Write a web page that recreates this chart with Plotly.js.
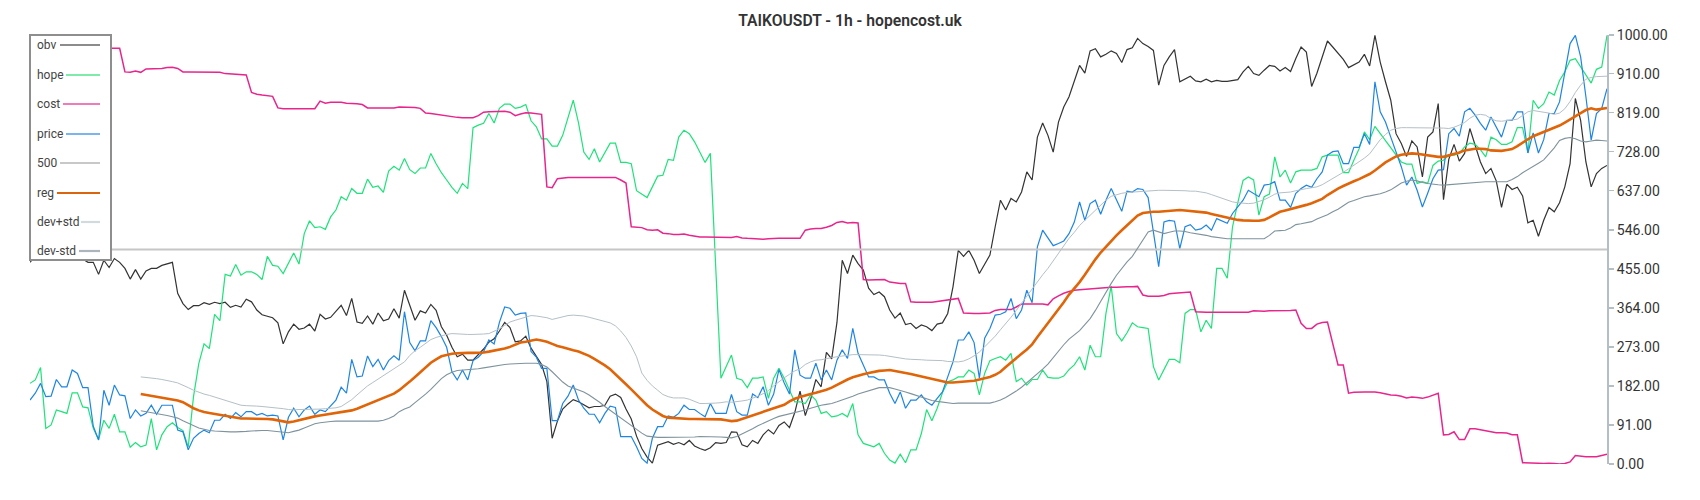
<!DOCTYPE html>
<html><head><meta charset="utf-8">
<script src="https://cdn.plot.ly/plotly-3.0.1.min.js"></script>
<style>html,body{margin:0;padding:0;background:#fff}#chart{width:1700px;height:500px}</style>
</head><body><div id="chart"></div>
<script>
const chartTitle = 'TAIKOUSDT - 1h - hopencost.uk';
const seriesNames = ['obv','hope','cost','price','500','reg','dev+std','dev-std'];
const yTickVals = [0,91,182,273,364,455,546,637,728,819,910,1000];

const obv = [
470,485,478,490,475,482,495,488,480,492,
478,470,470,442,475,458,479,470,456,431,
453,431,450,456,456,463,466,470,398,374,
360,369,369,376,372,377,374,377,365,370,
366,384,378,359,348,344,341,329,280,308,
326,314,317,326,310,349,338,342,357,370,
346,386,331,328,345,326,352,334,338,362,
340,405,370,335,357,352,372,358,320,300,
272,250,256,242,242,254,268,284,292,310,
330,318,285,287,298,270,250,232,192,60,
100,128,140,150,145,138,131,134,134,137,
158,163,155,128,105,65,36,16,2,44,
48,52,46,50,45,55,42,36,32,38,
50,48,50,75,74,45,40,55,48,68,
80,70,90,98,85,120,170,113,150,197,
180,260,245,330,475,444,487,467,452,410,
395,401,390,359,340,352,325,328,316,324,
320,311,326,329,351,413,498,484,498,475,
444,467,487,553,615,592,619,611,634,681,
662,762,795,766,727,797,832,856,894,929,
911,963,968,949,955,963,957,936,966,970,
992,980,973,964,883,929,949,966,891,898,
904,893,891,897,891,894,892,892,894,896,
914,927,910,906,918,929,927,916,924,915,
945,972,960,880,911,949,986,972,958,943,
924,931,937,955,928,999,937,891,848,770,
747,717,753,739,669,762,774,840,616,710,
745,706,724,782,743,704,677,689,660,598,
652,640,645,625,562,568,531,568,598,588,
609,646,700,852,801,704,646,677,689,696];

const hope = [
188,196,225,83,91,126,122,118,166,166,
133,131,83,57,102,83,116,75,75,39,
50,40,44,106,33,68,87,96,85,78,
40,157,234,280,269,349,334,442,438,465,
440,448,448,442,430,484,463,461,444,467,
492,466,537,567,551,553,547,576,592,623,
615,642,631,631,664,645,648,633,683,694,
685,712,686,677,690,690,724,700,679,662,
645,631,654,642,784,790,794,817,795,829,
839,839,829,832,838,800,786,758,758,741,
741,766,805,848,795,727,710,735,704,727,
748,748,703,703,700,637,629,621,646,671,
673,710,708,762,778,770,751,727,703,724,
450,200,227,254,200,196,178,200,200,203,
153,200,223,200,172,145,145,141,161,149,
118,122,110,112,118,110,141,68,48,44,
40,48,25,9,2,23,3,33,33,71,
127,101,130,166,192,196,203,203,219,211,
161,211,241,246,250,242,258,192,200,184,
197,197,219,202,200,200,205,220,231,250,
219,277,250,250,351,415,304,287,306,329,
320,318,316,227,196,220,244,244,236,351,
360,360,308,335,316,456,456,433,553,609,
661,669,662,580,623,629,716,669,685,655,
681,685,685,685,689,716,720,720,720,679,
679,708,735,774,756,787,770,756,739,720,
704,699,699,654,658,654,696,706,708,720,
720,724,739,748,745,733,716,762,756,745,
745,751,784,784,725,848,829,840,867,860,
894,914,941,945,925,906,888,920,925,999];

const cost = [
1000,1000,1000,1000,1000,1000,1000,1000,985,975,
970,969,969,969,969,969,969,969,914,913,
916,913,921,921,921,922,924,925,922,914,
914,914,914,914,914,914,913,910,909,908,
908,907,866,862,860,858,857,830,828,828,
828,828,828,828,828,846,841,843,843,843,
841,841,840,838,830,830,830,830,830,830,
832,832,832,831,829,818,817,815,813,812,
810,808,807,807,807,812,820,821,821,822,
822,820,812,816,819,818,816,815,646,644,
665,667,668,668,668,668,668,669,668,668,
668,668,662,655,553,552,551,546,545,546,
538,537,535,535,536,533,531,529,529,529,
529,529,529,528,530,527,526,525,524,524,
525,526,526,526,526,526,526,545,548,549,
549,552,556,563,565,562,563,562,430,429,
429,430,430,424,422,421,421,378,377,377,
377,377,379,381,383,385,386,352,351,351,
351,351,352,358,360,360,360,366,373,373,
373,374,373,371,385,392,398,402,405,406,
407,408,410,411,412,412,412,413,413,413,
414,394,391,391,391,393,397,398,399,400,
401,355,354,354,354,354,354,354,354,354,
353,354,357,356,356,357,357,357,357,358,
359,328,316,316,326,330,331,281,231,231,
165,167,168,168,168,168,166,163,161,160,
158,154,156,155,153,156,160,165,68,69,
75,57,57,82,82,80,77,75,73,73,
72,68,68,3,3,2,2,1,2,1,
0,1,5,20,18,17,17,17,20,23];

const price = [
149,165,188,157,158,197,180,180,219,211,
178,178,88,56,172,137,184,161,159,106,
126,112,118,137,116,137,137,137,79,75,
33,60,71,79,73,102,102,116,106,120,
110,122,122,114,118,112,114,112,56,109,
130,110,126,135,116,126,122,135,149,179,
165,244,203,205,252,227,244,219,241,252,
242,355,283,264,287,287,334,318,297,272,
215,196,219,196,241,249,262,289,280,330,
366,363,347,351,352,262,249,223,223,101,
101,141,158,184,149,130,116,116,96,118,
135,132,64,64,64,40,13,2,60,87,
87,112,109,118,137,127,127,118,110,141,
118,118,118,162,122,114,114,163,155,180,
137,163,220,189,163,266,207,200,200,235,
196,219,196,242,266,246,316,258,231,203,
203,196,196,165,141,168,130,149,149,161,
145,137,153,168,203,238,289,289,308,283,
200,293,316,347,349,355,386,339,359,405,
376,506,545,528,509,514,520,537,564,611,
568,607,615,582,615,642,615,589,636,634,
642,640,621,545,460,564,568,566,502,553,
558,545,548,557,545,572,566,561,584,600,
615,638,630,623,650,652,658,615,615,598,
631,642,650,645,665,681,720,728,730,700,
700,738,738,770,745,891,821,797,762,728,
693,650,669,638,599,631,665,685,686,770,
782,764,821,829,813,794,778,809,787,762,
801,801,821,821,725,772,725,756,817,817,
844,914,980,999,949,856,755,817,829,875];

const level500 = [500, 500];

const reg = [
null,null,null,null,null,null,null,null,null,null,
null,null,null,null,null,null,null,null,null,null,
null,163,161,158,156,154,152,151,148,144,
136,130,125,121,119,117,115,113,110,108,
106,106,106,106,105,105,104,102,100,97,
99,102,105,109,111,113,115,116,118,120,
122,125,129,134,139,144,148,153,158,164,
172,181,192,203,214,226,236,244,251,254,
257,258,259,259,259,259,260,262,264,266,
269,273,278,283,285,287,290,288,285,280,
275,272,268,265,262,257,252,245,238,230,
221,210,198,186,174,161,149,137,127,119,
112,108,107,106,105,105,105,105,105,105,
105,104,102,100,101,105,109,113,118,122,
126,130,134,138,146,152,156,160,163,166,
169,173,178,185,191,197,202,206,209,212,
215,217,218,219,217,215,212,210,207,204,
202,199,195,192,190,190,191,192,192,194,
197,200,203,208,215,226,237,247,257,267,
279,296,312,328,344,361,377,395,409,424,
441,460,477,493,507,520,533,545,557,568,
579,585,587,588,588,589,590,591,592,591,
590,589,588,586,583,580,577,574,571,569,
568,567,567,567,569,575,582,588,591,594,
597,600,604,608,613,618,627,635,642,648,
654,659,664,670,676,684,694,703,710,717,
721,723,724,723,721,719,717,716,716,719,
722,726,731,733,735,735,734,731,730,730,
732,734,741,750,757,764,769,774,778,783,
789,796,804,811,818,825,829,826,828,830];

const devPlus = [
null,null,null,null,null,null,null,null,null,null,
null,null,null,null,null,null,null,null,null,null,
null,203,202,201,199,197,195,192,189,184,
178,172,167,163,160,156,152,148,144,140,
137,136,136,135,134,133,132,130,129,127,
126,127,127,128,128,128,129,130,131,134,
141,150,161,172,182,190,198,206,213,220,
229,238,253,264,272,281,290,295,299,302,
304,303,302,302,302,302,303,304,309,315,
323,331,335,339,343,346,345,343,341,337,
340,344,346,347,346,345,342,339,336,333,
329,322,310,295,275,250,212,195,182,172,
162,157,154,154,154,151,146,141,141,141,
142,143,145,144,145,147,149,153,158,164,
171,182,192,201,209,217,222,232,238,242,
243,246,248,250,252,254,255,255,255,255,
255,254,253,251,248,246,245,244,244,243,
242,242,242,241,239,238,238,240,245,252,
261,273,285,298,313,327,342,358,375,391,
407,424,441,456,473,491,508,526,540,556,
568,580,592,604,615,624,628,631,633,634,
635,636,637,638,638,638,638,638,638,637,
636,636,634,632,628,624,619,615,611,609,
608,607,608,612,616,622,629,632,633,634,
637,640,642,644,646,651,658,664,672,680,
688,696,704,713,723,740,756,768,778,782,
784,784,784,784,784,784,784,784,783,782,
785,790,796,806,813,815,813,805,800,799,
800,802,804,812,821,824,822,821,818,815,
818,828,845,866,883,897,901,903,904,904];

const devMinus = [
null,null,null,null,null,null,null,null,null,null,
null,null,null,null,null,null,null,null,null,null,
null,124,122,119,117,115,113,110,107,101,
95,89,84,81,78,77,76,75,75,75,
75,76,77,78,78,78,77,76,74,73,
76,79,84,89,94,96,98,99,100,100,
100,100,100,99,99,99,100,102,106,112,
122,128,133,143,152,163,174,186,199,208,
214,218,219,219,220,222,224,226,229,231,
232,233,234,235,235,235,235,232,226,215,
202,191,182,177,173,168,161,153,144,134,
125,116,107,97,88,79,72,65,63,62,
62,62,62,62,62,63,63,64,64,64,
64,63,62,61,64,70,75,82,89,95,
101,106,111,114,117,120,122,126,130,134,
137,139,141,145,149,153,158,163,167,171,
175,178,178,178,175,172,168,164,160,156,
152,148,146,144,142,141,142,142,142,142,
142,142,142,145,149,155,162,170,179,189,
200,210,221,233,248,264,278,291,301,311,
325,339,358,380,401,421,440,457,471,484,
503,520,541,545,541,537,540,543,543,542,
539,537,536,533,530,528,526,525,525,525,
525,525,525,525,525,533,543,544,545,550,
558,560,562,565,571,576,581,588,594,602,
610,614,619,623,625,627,630,634,639,647,
655,659,662,660,656,654,652,651,650,651,
652,653,654,655,657,658,658,658,658,658,
658,663,670,679,686,693,701,709,722,737,
754,759,761,758,753,751,753,755,754,753];

// ---- styling ----
const lineColors   = ['#333333','#1ee27a','#e8258c','#1e85e3','#c6c6c6','#e06408','#b4c0c6','#7f939d'];
const lineWidths   = [1.2, 1.2, 1.5, 1.2, 2, 2.6, 1, 1.1];
const legendColors = ['#8c8c8c','#7febaa','#f07bb9','#7bb5ec','#c8c8c8','#d9650f','#d2dadd','#aab5bc'];

const N = price.length;
const xIdx = Array.from({length: N}, (_, i) => i);
const xEnds = [xIdx[0], xIdx[N - 1]];
const seriesY = [obv, hope, cost, price, level500, reg, devPlus, devMinus];

const traces = seriesY.map((ys, k) => ({
  type: 'scatter', mode: 'lines', name: seriesNames[k],
  x: ys.length === 2 ? xEnds : xIdx, y: ys,
  line: {color: lineColors[k], width: lineWidths[k]},
  connectgaps: false, hoverinfo: 'skip', showlegend: false
}));

// plot geometry (pixels)
const W = 1700, H = 500, mL = 30, mR = 93, mT = 35, mB = 36;
const pw = W - mL - mR, ph = H - mT - mB;
const px = v => (v - mL) / pw;           // pixel x -> paper
const py = v => (H - mB - v) / ph;       // pixel y -> paper

// custom legend: text on the left, line sample on the right
const legTop = 35, legBottom = 260, legRight = 111;
const itemY = [45, 75, 104, 134, 163, 193, 222, 251];
const lineStart = [60, 66, 63, 66, 60, 57, 81, 79];
const shapes = [{
  type: 'rect', xref: 'paper', yref: 'paper', layer: 'above',
  x0: px(mL), x1: px(legRight), y0: py(legBottom), y1: py(legTop),
  fillcolor: '#ffffff', line: {color: '#8e8e8e', width: 2}
}];
const annotations = [];
seriesNames.forEach((nm, k) => {
  shapes.push({type: 'line', xref: 'paper', yref: 'paper', layer: 'above',
    x0: px(lineStart[k]), x1: px(100), y0: py(itemY[k]), y1: py(itemY[k]),
    line: {color: legendColors[k], width: 2.2}});
  annotations.push({xref: 'paper', yref: 'paper', x: px(35), y: py(itemY[k]),
    xanchor: 'left', yanchor: 'middle', showarrow: false, text: nm,
    font: {family: 'Roboto, sans-serif', size: 12, color: '#444'}});
});

const layout = {
  width: W, height: H,
  margin: {l: mL, r: mR, t: mT, b: mB, pad: 0},
  paper_bgcolor: '#ffffff', plot_bgcolor: '#ffffff',
  showlegend: false,
  title: {text: chartTitle, x: 0.5, xref: 'container', xanchor: 'center',
          y: 1 - 20.5 / H, yref: 'container', yanchor: 'middle',
          font: {family: 'Roboto, sans-serif', size: 15.7, color: '#333', weight: 600}},
  xaxis: {visible: false, range: [xIdx[0], xIdx[N - 1]], fixedrange: true},
  yaxis: {side: 'right', range: [0, 1000], tickvals: yTickVals,
          ticktext: yTickVals.map(v => v.toFixed(2)),
          showgrid: false, zeroline: false, showline: true,
          linecolor: '#b3bfc5', linewidth: 2, ticks: 'outside', ticklen: 5,
          tickwidth: 1.5, tickcolor: '#b3bfc5',
          tickfont: {family: 'Roboto, sans-serif', size: 14, color: '#333'}},
  shapes: shapes, annotations: annotations
};

Plotly.newPlot('chart', traces, layout, {displayModeBar: false, staticPlot: true});
</script></body></html>
